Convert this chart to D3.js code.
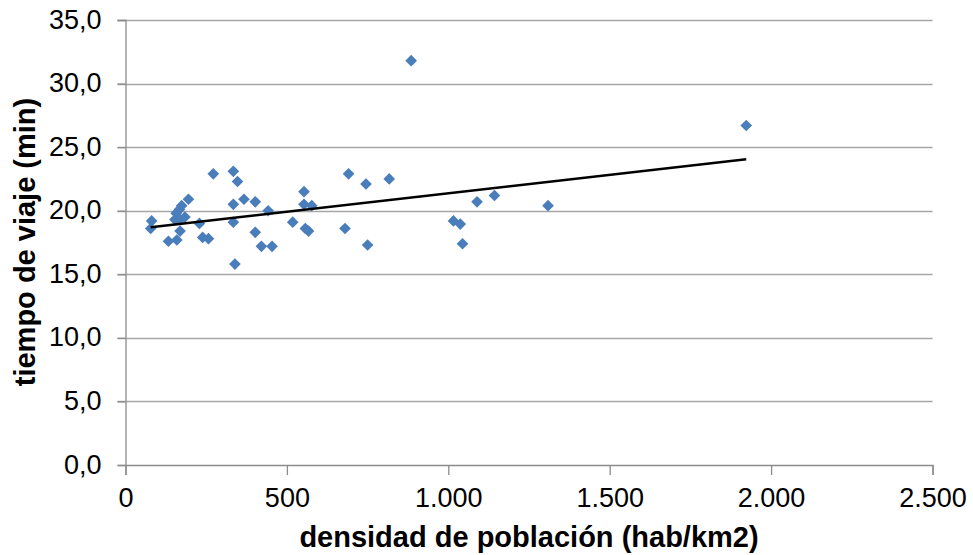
<!DOCTYPE html>
<html>
<head>
<meta charset="utf-8">
<script src="https://cdn.jsdelivr.net/npm/d3@7"></script>
<style>
  html, body { margin: 0; padding: 0; background: #fff; }
  svg { display: block; font-family: "Liberation Sans", Arial, sans-serif; }
</style>
</head>
<body>
<svg id="chart" width="973" height="555"></svg>
<script>
// Data
const densidad = [78, 81, 133, 153, 157, 159, 167, 169, 169, 174, 184, 195, 229, 239, 257, 272,
                  334, 334, 334, 339, 347, 367, 402, 402, 421, 442, 454, 518, 553, 553, 557, 567, 577,
                  680, 691, 745, 750, 817, 885, 1016, 1037, 1044, 1089, 1143, 1309, 1923];
const tiempo   = [18.6, 19.2, 17.6, 19.3, 19.8, 17.7, 20.1, 19.3, 18.4, 20.4, 19.5, 20.9, 19.0, 17.9, 17.8, 22.9,
                  23.1, 20.5, 19.1, 15.8, 22.3, 20.9, 20.7, 18.3, 17.2, 20.0, 17.2, 19.1, 21.5, 20.5, 18.6, 18.4, 20.4,
                  18.6, 22.9, 22.1, 17.3, 22.5, 31.8, 19.2, 18.95, 17.4, 20.7, 21.2, 20.4, 26.7];
const trendX = [78, 1923];
const trendY = [18.7, 24.05];
const xTicks = [0, 500, 1000, 1500, 2000, 2500];
const xTickLabels = ["0", "500", "1.000", "1.500", "2.000", "2.500"];
const yTicks = [0, 5, 10, 15, 20, 25, 30, 35];
const yTickLabels = ["0,0", "5,0", "10,0", "15,0", "20,0", "25,0", "30,0", "35,0"];
const xTitle = "densidad de población (hab/km2)";
const yTitle = "tiempo de viaje (min)";

const svg = d3.select("#chart");
const L = 125.5, R = 932.5, T = 20, B = 465;

const x = d3.scaleLinear().domain([0, 2500]).range([L, R]);
const y = d3.scaleLinear().domain([0, 35]).range([B, T]);

// gridlines
svg.append("g").selectAll("line").data(yTicks.filter(d => d > 0)).join("line")
  .attr("x1", L - 8).attr("x2", R)
  .attr("y1", d => Math.round(y(d)) + 0.5).attr("y2", d => Math.round(y(d)) + 0.5)
  .attr("stroke", "#a6a6a6").attr("stroke-width", 1.3);

// y axis
const yAxis = d3.axisLeft(y).tickValues(yTicks).tickSize(8).tickPadding(16)
  .tickFormat((d, i) => yTickLabels[i]);
const gy = svg.append("g").attr("transform", `translate(${L},0)`).call(yAxis);
gy.select(".domain").attr("stroke", "#8c8c8c").attr("stroke-width", 1.3);
gy.selectAll(".tick line").attr("stroke", "#8c8c8c").attr("stroke-width", 1.3);
gy.selectAll(".tick text").attr("font-size", 27).attr("fill", "#000")
  .attr("font-family", "'Liberation Sans', Arial, sans-serif").attr("dy", "0.3em");

// x axis
const xAxis = d3.axisBottom(x).tickValues(xTicks).tickSize(10).tickPadding(13)
  .tickFormat((d, i) => xTickLabels[i]);
const gx = svg.append("g").attr("transform", `translate(0,${B})`).call(xAxis);
gx.select(".domain").attr("stroke", "#8c8c8c").attr("stroke-width", 1.3);
gx.selectAll(".tick line").attr("stroke", "#8c8c8c").attr("stroke-width", 1.3);
gx.selectAll(".tick text").attr("font-size", 27).attr("fill", "#000")
  .attr("font-family", "'Liberation Sans', Arial, sans-serif");

// points
const pts = densidad.map((d, i) => ({ x: d, y: tiempo[i] }));
const sym = d3.symbol().type(d3.symbolSquare).size(68);
svg.append("g").selectAll("path").data(pts).join("path")
  .attr("d", sym)
  .attr("transform", d => `translate(${x(d.x)},${y(d.y)}) rotate(45)`)
  .attr("fill", "#4a7ebb");

// trend line
const trend = trendX.map((d, i) => [d, trendY[i]]);
svg.append("path").datum(trend)
  .attr("d", d3.line().x(d => x(d[0])).y(d => y(d[1])))
  .attr("stroke", "#000").attr("stroke-width", 2.5).attr("fill", "none");

// titles
svg.append("text").attr("x", (300 + 758) / 2).attr("y", 547)
  .attr("text-anchor", "middle").attr("font-size", 29).attr("font-weight", "bold")
  .attr("fill", "#000").text(xTitle);
svg.append("text").attr("transform", `translate(35,242) rotate(-90)`)
  .attr("text-anchor", "middle").attr("font-size", 29).attr("font-weight", "bold")
  .attr("fill", "#000").text(yTitle);
</script>
</body>
</html>
